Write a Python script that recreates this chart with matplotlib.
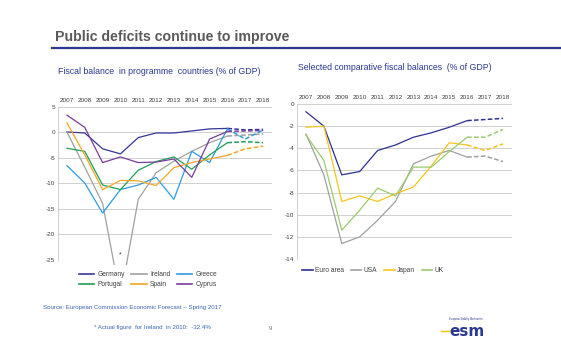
import numpy as np
import matplotlib
matplotlib.use("Agg")
import matplotlib.pyplot as plt
from matplotlib.patches import Rectangle
from matplotlib.lines import Line2D

plt.rcParams["font.family"] = ["Liberation Sans", "DejaVu Sans"]
plt.rcParams["axes.unicode_minus"] = False

years = ["2007", "2008", "2009", "2010", "2011", "2012", "2013", "2014", "2015", "2016", "2017", "2018"]
forecast_start = 9  # 2016 onwards dashed

# programme countries (% of GDP)
germany = [0.1, -0.1, -3.2, -4.2, -1.0, -0.1, -0.1, 0.3, 0.7, 0.8, 0.5, 0.6]
ireland = [0.1, -6.8, -13.9, -32.4, -13.1, -7.9, -5.6, -3.7, -2.0, -0.7, -0.5, -0.3]
greece = [-6.5, -9.9, -15.8, -11.2, -10.3, -8.8, -13.1, -3.7, -5.9, 0.7, -1.3, 0.5]
portugal = [-3.1, -3.7, -10.3, -11.2, -7.4, -5.7, -4.8, -7.2, -4.4, -2.0, -1.8, -2.0]
spain = [1.9, -4.4, -11.2, -9.4, -9.5, -10.4, -6.9, -5.9, -5.2, -4.5, -3.2, -2.7]
cyprus = [3.4, 1.0, -5.9, -4.8, -5.9, -5.8, -5.2, -8.8, -1.3, 0.2, 0.3, 0.4]

# comparative fiscal balances (% of GDP)
euro_area = [-0.7, -2.0, -6.4, -6.1, -4.2, -3.7, -3.0, -2.6, -2.1, -1.5, -1.4, -1.3]
usa = [-2.7, -6.4, -12.6, -12.0, -10.5, -8.8, -5.4, -4.7, -4.2, -4.8, -4.7, -5.2]
japan = [-2.1, -2.0, -8.8, -8.3, -8.8, -8.1, -7.5, -5.6, -3.5, -3.7, -4.2, -3.6]
uk = [-2.8, -5.1, -11.4, -9.6, -7.6, -8.3, -5.7, -5.7, -4.3, -3.0, -3.0, -2.3]

left_series = [
    ("Germany", germany, "#35359a"),
    ("Ireland", ireland, "#a0a0a0"),
    ("Greece", greece, "#2e9be0"),
    ("Portugal", portugal, "#1f9e55"),
    ("Spain", spain, "#f5a623"),
    ("Cyprus", cyprus, "#7a3b9c"),
]
right_series = [
    ("Euro area", euro_area, "#2e3191"),
    ("USA", usa, "#a0a0a0"),
    ("Japan", japan, "#f7c51e"),
    ("UK", uk, "#9bcb6b"),
]

navy = "#2b3990"
tick_col = "#404040"

fig = plt.figure(figsize=(5.61, 3.62), dpi=100)
fig.patch.set_facecolor("white")


def style_axes(ax, ylim, yticks):
    x = np.arange(len(years))
    ax.set_xlim(-0.5, len(years) - 0.5)
    ax.set_ylim(*ylim)
    ax.set_xticks(x)
    ax.set_xticklabels(years)
    ax.xaxis.tick_top()
    ax.set_yticks(yticks)
    ax.set_yticklabels([str(t) for t in yticks])
    ax.tick_params(axis="both", length=0, labelsize=4.6, colors=tick_col, pad=2)
    ax.tick_params(axis="x", pad=3)
    for s in ["top", "right", "bottom"]:
        ax.spines[s].set_visible(False)
    ax.spines["left"].set_color("#c8c8c8")
    ax.spines["left"].set_linewidth(0.6)
    ax.yaxis.grid(True, color="#d0d0d0", linewidth=0.7)
    ax.set_axisbelow(True)


def draw(ax, series, clip_extra=None):
    x = np.arange(len(years))
    handles = []
    for name, vals, col in series:
        v = np.array(vals)
        solid, = ax.plot(x[:forecast_start + 1], v[:forecast_start + 1], color=col, lw=0.9)
        ax.plot(x[forecast_start:], v[forecast_start:], color=col, lw=1.1,
                linestyle=(0, (3, 1.5)))
        if clip_extra is not None and name == clip_extra:
            rect = Rectangle((0, -0.03), 1, 1.06, transform=ax.transAxes)
            solid.set_clip_path(rect)
        handles.append(Line2D([], [], color=col, lw=1.2, label=name))
    return handles


# left chart
ax1 = fig.add_axes([0.1034, 0.2818, 0.3815, 0.4227])
style_axes(ax1, (-25, 5), [5, 0, -5, -10, -15, -20, -25])
h1 = draw(ax1, left_series, clip_extra="Ireland")
ax1.text(3, -24.7, "*", fontsize=5, color=tick_col, ha="center", va="bottom")
# legend fills column-wise, reorder so rows read Germany/Ireland/Greece, Portugal/Spain/Cyprus
h1 = [h1[0], h1[3], h1[1], h1[4], h1[2], h1[5]]
fig.legend(handles=h1, ncol=3, loc="center", bbox_to_anchor=(148 / 561, 1 - 279.5 / 362),
           frameon=False, fontsize=4.8, handlelength=2.3, handletextpad=0.5,
           columnspacing=1.0, labelspacing=0.45, labelcolor=tick_col)

# right chart
ax2 = fig.add_axes([0.5294, 0.2845, 0.3832, 0.4282])
style_axes(ax2, (-14, 0), [0, -2, -4, -6, -8, -10, -12, -14])
h2 = draw(ax2, right_series)
fig.legend(handles=h2, ncol=4, loc="center", bbox_to_anchor=(373 / 561, 1 - 271 / 362),
           frameon=False, fontsize=4.8, handlelength=1.6, handletextpad=0.35,
           columnspacing=1.0, labelcolor=tick_col)

# titles
fig.text(55 / 561, 1 - 37 / 362, "Public deficits continue to improve", fontsize=10.2,
         fontweight="bold", color="#5a5a5a", va="center", ha="left")
fig.add_artist(Line2D([52 / 561, 1.0], [1 - 48 / 362, 1 - 48 / 362], color=navy, lw=1.6))
fig.text(58 / 561, 1 - 71 / 362, "Fiscal balance  in programme  countries (% of GDP)",
         fontsize=6.3, color=navy, va="center", ha="left")
fig.text(298 / 561, 1 - 68 / 362, "Selected comparative fiscal balances  (% of GDP)",
         fontsize=6.3, color=navy, va="center", ha="left")

# footer
fig.text(43 / 561, 1 - 307 / 362, "Source: European Commission Economic Forecast \u2013 Spring 2017",
         fontsize=4.4, color="#3a66b8", va="center", ha="left")
fig.text(211 / 561, 1 - 328 / 362, "* Actual figure  for Ireland  in 2010:  -32.4%",
         fontsize=4.4, color="#3a66b8", va="center", ha="right")
fig.text(270 / 561, 1 - 329 / 362, "9", fontsize=4.4, color="#707070", va="center", ha="center")

# esm logo
fig.text(466 / 561, 1 - 319 / 362, "European Stability Mechanism", fontsize=1.8,
         color="#2b3990", va="center", ha="center")
fig.text(467 / 561, 1 - 331 / 362, "esm", fontsize=11, fontweight="bold",
         color="#2b3990", va="center", ha="center", family="DejaVu Sans")
fig.add_artist(Line2D([441 / 561, 452 / 561], [1 - 331 / 362, 1 - 331 / 362],
                      color="#f2c500", lw=1.0))

fig.savefig("out.png", dpi=100, facecolor="white")
